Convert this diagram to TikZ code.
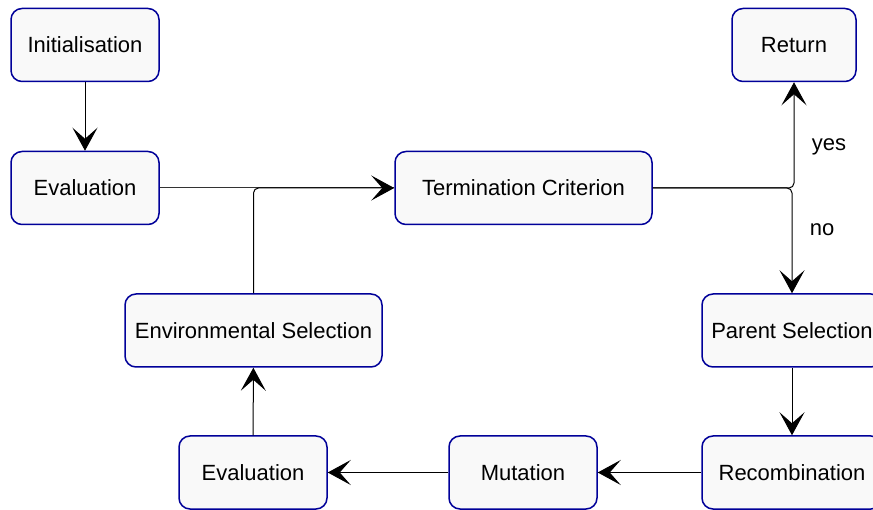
\documentclass[tikz,border=0pt]{standalone}
\usepackage{fontspec}
\setmainfont{Liberation Sans}
\usetikzlibrary{arrows.meta}
\definecolor{navy}{RGB}{0,0,153}
\definecolor{boxfill}{RGB}{249,249,249}
\begin{document}
\begin{tikzpicture}[x=1pt,y=-1pt,
  box/.style={draw=navy, fill=boxfill, rounded corners=11pt, line width=1.5pt,
    minimum height=73pt, inner sep=0pt, font=\fontsize{22}{26}\selectfont},
  lbl/.style={inner sep=0pt, font=\fontsize{22}{26}\selectfont},
  arr/.style={-{Stealth[length=23pt,width=25pt,inset=11pt]}, line width=1pt, rounded corners=5pt},
  ln/.style={line width=1pt, draw=black!80}]
\useasboundingbox (0,0) rectangle (873,510);
\node[box, minimum width=148pt] (init) at (85,45) {Initialisation};
\node[box, minimum width=148pt] (evalA) at (85,188) {Evaluation};
\node[box, minimum width=257pt] (term) at (523.5,188) {Termination Criterion};
\node[box, minimum width=124pt] (ret) at (794,45) {Return};
\node[box, minimum width=180pt] (par) at (792,330.5) {Parent Selection};
\node[box, minimum width=180pt] (rec) at (792,472.5) {Recombination};
\node[box, minimum width=148pt] (mut) at (523,472.5) {Mutation};
\node[box, minimum width=148pt] (evalB) at (253,472.5) {Evaluation};
\node[box, minimum width=257pt] (env) at (253.5,330.5) {Environmental Selection};
\node[lbl] (yes) at (829,147) {yes};
\node[lbl] (no) at (822,230) {no};

\draw[arr] (init) -- (evalA);
\draw[ln] (evalA.east) -- (term.west);
\draw[arr] (env.north) |- (term.west);
\draw[arr] (term.east) -| (ret.south);
\draw[arr] (term.east) -| (par.north);
\draw[arr] (par) -- (rec);
\draw[arr] (rec) -- (mut);
\draw[arr] (mut) -- (evalB);
\draw[arr] (evalB) -- (env);
\end{tikzpicture}
\end{document}
